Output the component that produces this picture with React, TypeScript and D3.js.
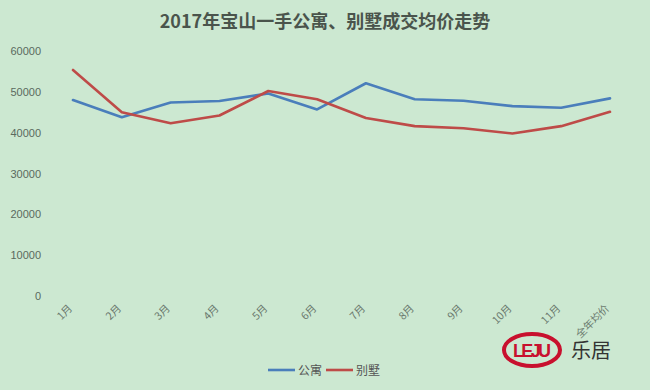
import React, { useEffect, useRef } from "react";
import * as d3 from "d3";

const months = ["1月", "2月", "3月", "4月", "5月", "6月", "7月", "8月", "9月", "10月", "11月", "全年均价"];
const apartment = [48000, 43800, 47400, 47750, 49600, 45700, 52100, 48200, 47800, 46500, 46100, 48400];
const villa = [55350, 45000, 42300, 44200, 50200, 48200, 43600, 41600, 41100, 39800, 41600, 45100];
const yTicks = [0, 10000, 20000, 30000, 40000, 50000, 60000];
const seriesNames = ["公寓", "别墅"];

const App: React.FC = () => {
  const ref = useRef<SVGSVGElement>(null);

  useEffect(() => {
    if (!ref.current) return;
    const width = 650;
    const height = 390;
    const svg = d3.select(ref.current);
    svg.selectAll("*").remove();

    const font = "'Liberation Sans', 'Noto Sans CJK SC', sans-serif";
    const colors = ["#4a7ebb", "#be4b48"];

    svg.append("rect").attr("width", width).attr("height", height).attr("fill", "#cce8d1");

    svg
      .append("text")
      .attr("x", 325)
      .attr("y", 28)
      .attr("text-anchor", "middle")
      .attr("font-family", "'Noto Sans CJK SC', sans-serif")
      .attr("font-weight", "bold")
      .attr("font-size", 18)
      .attr("fill", "#4a544c")
      .text("2017年宝山一手公寓、别墅成交均价走势");

    const x = d3.scalePoint<string>().domain(months).range([73, 610]);
    const y = d3.scaleLinear().domain([0, 60000]).range([296, 51]);

    // y axis labels
    svg
      .append("g")
      .selectAll("text")
      .data(yTicks)
      .enter()
      .append("text")
      .attr("x", 41)
      .attr("y", (d) => y(d) + 4)
      .attr("text-anchor", "end")
      .attr("font-family", font)
      .attr("font-size", 11)
      .attr("fill", "#5a6a5e")
      .text((d) => String(d));

    // x axis labels, rotated
    svg
      .append("g")
      .selectAll("text")
      .data(months)
      .enter()
      .append("text")
      .attr("transform", (d) => `translate(${(x(d) as number)},${309}) rotate(-45)`)
      .attr("text-anchor", "end")
      .attr("font-family", "'Noto Sans CJK SC', sans-serif")
      .attr("font-size", 10.5)
      .attr("fill", "#6a786d")
      .text((d) => d);

    const line = d3
      .line<number>()
      .x((_, i) => x(months[i]) as number)
      .y((d) => y(d));

    [apartment, villa].forEach((s, i) => {
      svg
        .append("path")
        .datum(s)
        .attr("d", line)
        .attr("fill", "none")
        .attr("stroke", colors[i])
        .attr("stroke-width", 2.6)
        .attr("stroke-linejoin", "round")
        .attr("stroke-linecap", "round");
    });

    // legend
    const legend = svg.append("g");
    const legendX = [268, 326];
    seriesNames.forEach((name, i) => {
      legend
        .append("line")
        .attr("x1", legendX[i])
        .attr("x2", legendX[i] + 27)
        .attr("y1", 370)
        .attr("y2", 370)
        .attr("stroke", colors[i])
        .attr("stroke-width", 2.6);
      legend
        .append("text")
        .attr("x", legendX[i] + 30)
        .attr("y", 375)
        .attr("font-family", "'Noto Sans CJK SC', sans-serif")
        .attr("font-size", 12)
        .attr("fill", "#555")
        .text(name);
    });

    // LEJU watermark
    const logo = svg.append("g");
    logo
      .append("ellipse")
      .attr("cx", 532)
      .attr("cy", 350)
      .attr("rx", 28)
      .attr("ry", 16)
      .attr("fill", "none")
      .attr("stroke", "#c8102e")
      .attr("stroke-width", 4);
    logo
      .append("text")
      .attr("x", 532)
      .attr("y", 357)
      .attr("text-anchor", "middle")
      .attr("font-family", "'Liberation Sans Narrow', 'Liberation Sans', sans-serif")
      .attr("font-weight", "bold")
      .attr("font-size", 18)
      .attr("textLength", 38)
      .attr("fill", "#c8102e")
      .text("LEJU");
    logo
      .append("text")
      .attr("x", 571)
      .attr("y", 358)
      .attr("font-family", "'Noto Sans CJK SC', sans-serif")
      .attr("font-size", 20)
      .attr("fill", "#333")
      .text("乐居");
  }, []);

  return <svg ref={ref} width={650} height={390} style={{ display: "block", position: "absolute", left: 0, top: 0 }} />;
};

export default App;
